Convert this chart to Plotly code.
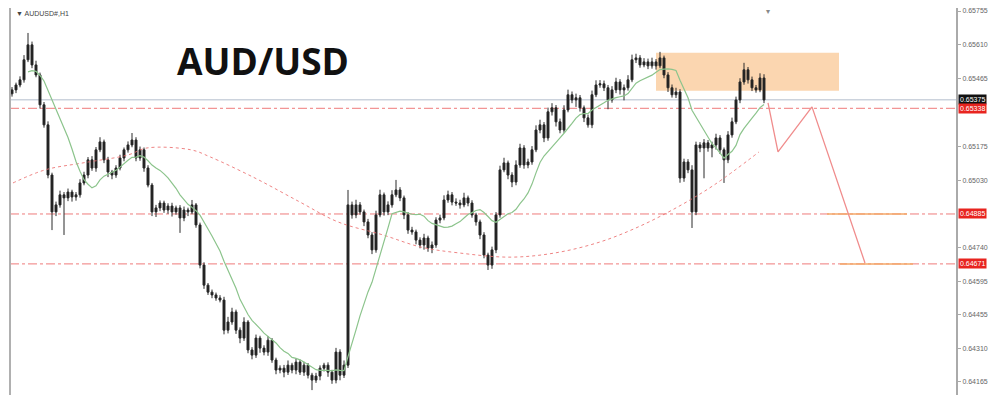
import plotly.graph_objects as go
import pandas as pd

# ---- data (price in points, 1 point = 0.00001) ----
closes_pts = [
    65417, 65438, 65460, 65546, 65610, 65524, 65481, 65353, 65267, 65052,
    64894, 64924, 64967, 64954, 64979, 64958, 64967, 65018, 65052, 65117,
    65082, 65160, 65194, 65117, 65065, 65052, 65082, 65125, 65160, 65181,
    65202, 65125, 65160, 65082, 65009, 64894, 64911, 64932, 64902, 64919,
    64894, 64911, 64868, 64902, 64894, 64924, 64838, 64666, 64580, 64550,
    64538, 64525, 64516, 64387, 64422, 64465, 64387, 64353, 64422, 64302,
    64280, 64353, 64310, 64293, 64344, 64259, 64216, 64224, 64207, 64237,
    64216, 64250, 64207, 64237, 64194, 64173, 64190, 64224, 64237, 64207,
    64173, 64293, 64194, 64237, 64924, 64881, 64924, 64894, 64851, 64795,
    64731, 64881, 64967, 64894, 64924, 64967, 64988, 64954, 64881, 64816,
    64808, 64773, 64752, 64782, 64739, 64752, 64859, 64868, 64945, 64967,
    64936, 64932, 64924, 64954, 64932, 64881, 64851, 64795, 64709, 64666,
    64731, 64881, 65074, 65104, 65052, 65022, 65095, 65168, 65095, 65108,
    65160, 65245, 65267, 65211, 65323, 65340, 65280, 65245, 65331, 65396,
    65374, 65383, 65340, 65297, 65267, 65396, 65438, 65443, 65426, 65374,
    65417, 65451, 65417, 65426, 65460, 65546, 65554, 65524, 65537, 65520,
    65537, 65520, 65554, 65481, 65426, 65396, 65408, 65039, 65108, 65074,
    64894, 65181, 65168, 65190, 65168, 65181, 65211, 65160, 65117, 65224,
    65280, 65374, 65451, 65503, 65460, 65426, 65417, 65468, 65374,
]
first_open_pts = 65400
upper_wick_pts = [
    12, 10, 15, 20, 51, 14, 18, 10, 12, 15,
    10, 14, 18, 12, 15, 10, 12, 16, 14, 12,
    16, 12, 20, 10, 13, 9, 12, 14, 10, 15,
    30, 12, 14, 10, 12, 9, 13, 11, 10, 12,
    14, 10, 12, 15, 10, 21, 8, 10, 12, 9,
    11, 10, 12, 14, 22, 18, 10, 12, 20, 8,
    12, 15, 10, 12, 18, 9, 10, 12, 14, 20,
    10, 16, 11, 14, 9, 10, 14, 12, 10, 12,
    10, 18, 12, 20, 64, 14, 22, 12, 10, 13,
    12, 18, 22, 10, 15, 20, 43, 12, 10, 12,
    14, 10, 12, 18, 10, 15, 12, 14, 20, 18,
    12, 16, 14, 22, 10, 12, 9, 10, 12, 10,
    14, 12, 18, 22, 10, 12, 20, 18, 12, 14,
    16, 20, 22, 12, 18, 20, 12, 14, 20, 22,
    14, 18, 12, 10, 14, 18, 20, 16, 14, 12,
    16, 18, 12, 14, 20, 22, 18, 12, 16, 14,
    18, 12, 26, 10, 12, 14, 18, 12, 14, 12,
    20, 14, 12, 16, 12, 14, 18, 12, 10, 16,
    18, 14, 16, 30, 12, 14, 12, 20, 16,
]
lower_wick_pts = [
    12, 14, 10, 12, 10, 14, 10, 16, 12, 14,
    78, 18, 12, 159, 14, 20, 16, 12, 10, 14,
    12, 16, 10, 14, 22, 18, 12, 10, 14, 12,
    10, 14, 12, 16, 10, 18, 22, 14, 12, 16,
    20, 12, 64, 14, 18, 10, 12, 14, 16, 12,
    14, 12, 10, 18, 14, 12, 16, 22, 12, 14,
    18, 12, 20, 14, 16, 12, 18, 14, 22, 12,
    14, 18, 12, 16, 14, 43, 12, 18, 14, 20,
    16, 14, 22, 12, 12, 16, 14, 12, 18, 14,
    18, 12, 10, 16, 14, 12, 10, 14, 18, 16,
    12, 18, 14, 20, 16, 22, 12, 14, 10, 12,
    14, 12, 16, 10, 14, 12, 16, 18, 14, 21,
    16, 14, 12, 10, 18, 22, 14, 12, 16, 14,
    12, 10, 14, 18, 12, 16, 20, 14, 12, 10,
    14, 30, 16, 18, 12, 14, 10, 12, 14, 40,
    12, 14, 20, 45, 12, 10, 14, 12, 10, 14,
    12, 16, 10, 14, 18, 12, 14, 20, 16, 14,
    69, 14, 18, 130, 16, 40, 20, 18, 99, 14,
    12, 10, 14, 12, 16, 14, 12, 10, 14,
]

# slow moving average (red dotted), read at bar positions
slow_ma_x = [0.25, 8.25, 17.75, 29, 33.75, 44.75, 49.5, 60.75, 72, 81.5,
             92.75, 102.25, 111.75, 124.5, 135.75, 147, 156.5, 166, 175.5, 186.75]
slow_ma_y = [0.65018, 0.65074, 0.65104, 0.65138, 0.65168, 0.65160, 0.65130,
             0.65039, 0.64936, 0.64851, 0.64795, 0.64743, 0.64718, 0.64700,
             0.64718, 0.64765, 0.64829, 0.64911, 0.65009, 0.65151]

# projection path
proj_x = [189, 191.5, 200, 213.25]
proj_y = [0.65361, 0.65151, 0.65344, 0.64675]

bid_price = 0.65375
levels = [0.65338, 0.64885, 0.64671]
level_orange = {0.64885: (203.75, 223.75), 0.64671: (207, 225.25)}
zone_x = (161, 206.75)
zone_y = (0.65413, 0.65576)

tick_vals = [0.65755, 0.65610, 0.65465, 0.65175, 0.65030, 0.64740,
             0.64595, 0.64455, 0.64310, 0.64165]
tick_text = ["0.65755", "0.65610", "0.65465", "0.65175", "0.65030", "0.64740",
             "0.64595", "0.64455", "0.64310", "0.64165"]

# ---- build OHLC ----
n = len(closes_pts)
closes = [c / 1e5 for c in closes_pts]
opens = [first_open_pts / 1e5] + closes[:-1]
highs = [max(o, c) + u / 1e5 for o, c, u in zip(opens, closes, upper_wick_pts)]
lows = [min(o, c) - l / 1e5 for o, c, l in zip(opens, closes, lower_wick_pts)]
idx = list(range(n))

fast_ma = pd.Series(closes).rolling(12, min_periods=1).mean()

fig = go.Figure()

fig.add_trace(go.Scatter(x=slow_ma_x, y=slow_ma_y, mode="lines",
                         line=dict(color="rgba(235,110,110,0.85)", width=1, dash="dot", shape="spline"),
                         hoverinfo="skip", showlegend=False))
fig.add_trace(go.Scatter(x=idx[4:], y=fast_ma[4:], mode="lines",
                         line=dict(color="#8cc48c", width=1.2),
                         hoverinfo="skip", showlegend=False))
fig.add_trace(go.Candlestick(
    x=idx, open=opens, high=highs, low=lows, close=closes,
    increasing=dict(line=dict(color="#2a2a2a", width=1), fillcolor="#1a1a1a"),
    decreasing=dict(line=dict(color="#2a2a2a", width=1), fillcolor="#1a1a1a"),
    whiskerwidth=0, showlegend=False))
fig.add_trace(go.Scatter(x=proj_x, y=proj_y, mode="lines",
                         line=dict(color="#f08c8c", width=1.3),
                         hoverinfo="skip", showlegend=False))

shapes = []
# supply zone
shapes.append(dict(type="rect", xref="x", yref="y", x0=zone_x[0], x1=zone_x[1],
                   y0=zone_y[0], y1=zone_y[1], fillcolor="rgba(250,200,150,0.75)",
                   line=dict(width=0), layer="below"))
# bid line
shapes.append(dict(type="line", xref="paper", yref="y", x0=0, x1=1, y0=bid_price, y1=bid_price,
                   line=dict(color="#ccd3dd", width=1.5), layer="below"))
for lv in levels:
    shapes.append(dict(type="line", xref="paper", yref="y", x0=0, x1=1, y0=lv, y1=lv,
                       line=dict(color="rgba(235,90,90,0.8)", width=1, dash="dashdot"), layer="below"))
for lv, (a, b) in level_orange.items():
    shapes.append(dict(type="line", xref="x", yref="y", x0=a, x1=b, y0=lv, y1=lv,
                       line=dict(color="#f3a868", width=1.5), layer="below"))
# left border
shapes.append(dict(type="line", xref="paper", yref="paper", x0=0, x1=0, y0=0, y1=1,
                   line=dict(color="#b0b0b0", width=2)))

annotations = [
    dict(text="<b>AUD/USD</b>", xref="paper", yref="paper", x=0.2674, y=0.8656,
         xanchor="center", yanchor="middle",
         showarrow=False, font=dict(family="Open Sans", size=37, color="#111")),
    dict(text="▼ AUDUSD#,H1", xref="paper", yref="paper", x=0.004, y=0.987,
         xanchor="left", yanchor="middle",
         showarrow=False, font=dict(family="Liberation Sans", size=7, color="#444")),
    dict(text="▾", xref="paper", yref="paper", x=0.801, y=0.99,
         xanchor="center", yanchor="middle",
         showarrow=False, font=dict(family="DejaVu Sans", size=8, color="#888")),
]
label_specs = [(bid_price, "#111111", "0.65375")] + [
    (lv, "#e8241f", f"{lv:.5f}") for lv in levels]
for val, col, txt in label_specs:
    annotations.append(dict(text=txt, xref="paper", yref="y", x=1.002, y=val,
                            xanchor="left", yanchor="middle", showarrow=False, bgcolor=col,
                            borderpad=1, font=dict(family="Liberation Sans", size=7, color="white")))

fig.update_layout(
    width=992, height=397,
    margin=dict(l=2, r=44, t=0, b=10),
    paper_bgcolor="white", plot_bgcolor="white",
    showlegend=False,
    shapes=shapes, annotations=annotations,
    xaxis=dict(range=[-0.5, 236], visible=False, rangeslider=dict(visible=False)),
    yaxis=dict(range=[0.64109, 0.65768], side="right", showgrid=False, zeroline=False,
               showline=True, linecolor="#aaaaaa", linewidth=2,
               tickvals=tick_vals, ticktext=tick_text, ticks="outside", ticklen=3,
               ticklabeloverflow="allow",
               tickcolor="#aaaaaa", tickfont=dict(family="Liberation Sans", size=7, color="#666")),
)

fig.write_html("out.html")
